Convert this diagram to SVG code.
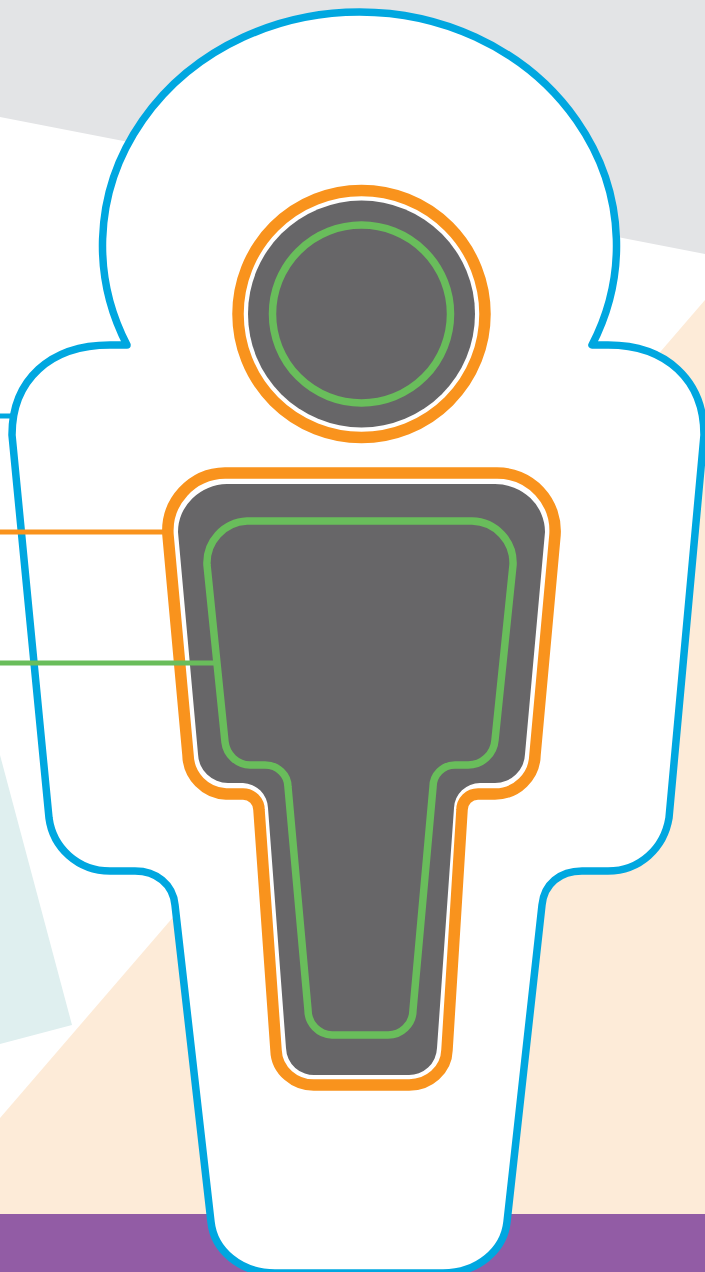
<svg xmlns="http://www.w3.org/2000/svg" width="705" height="1272" viewBox="0 0 705 1272">
<style>
.blue{fill:#fff;stroke:#00a7e0;stroke-width:7.500;stroke-linejoin:round}
.orange{fill:#fff;stroke:#f9931d;stroke-width:11.500}
.green{fill:none;stroke:#69bd5b;stroke-width:7.500}
.grey{fill:#676668}
.lead{fill:none;stroke-width:5}
</style>
<g id="background">
<rect width="705" height="1272" fill="#fff"/>
<polygon points="0,0 705,0 705,254 0,117" fill="#e3e4e6"/>
<polygon points="705,300 0,1118 0,1214 705,1214" fill="#fdebd8"/>
<polygon points="0,755 72,1025 0,1044" fill="#dfefef"/>
<rect y="1214" width="705" height="58" fill="#925ca5"/>
</g>
<g id="outline">
<path class="blue" d="M127 345A257 233.500 0 1 1 592 345H608C666 345 704 380 704 435L669 818C664 848 640 871 608 871H582C560 871 544 884 542 905L507 1222C504 1250 478 1273 443 1273H275C240 1273 214 1250 211 1222L175 905C173 884 156 871 135 871H110C78 871 53 848 49 818L12 435C12 380 50 345 110 345Z"/>
</g>
<g id="head">
<circle class="orange" cx="361.500" cy="314" r="123.500"/>
<circle class="grey" cx="361.500" cy="314" r="113.500"/>
<circle class="green" cx="361.500" cy="314" r="89"/>
</g>
<g id="body">
<path class="orange" d="M225 473H497A58 58 0 0 1 555 535L535 755A40 40 0 0 1 495 794H478A16 16 0 0 0 462 810L447 1050A38 36 0 0 1 408 1085H316A38 36 0 0 1 276 1050L259 810A16 16 0 0 0 243 794H226A40 40 0 0 1 188 755L168 535A58 58 0 0 1 225 473Z"/>
<path class="grey" d="M227 484H495A50 48 0 0 1 545 532L525 754A30 30 0 0 1 495 783H480A26 26 0 0 0 454 808L437 1048A28 28 0 0 1 408 1075H316A28 28 0 0 1 286 1048L268 808A26 26 0 0 0 243 783H228A30 30 0 0 1 198 754L178 532A50 48 0 0 1 227 484Z"/>
<path class="green" d="M247 521H472A42 42 0 0 1 513 565L495 740A27 27 0 0 1 468 765H455A22 22 0 0 0 433 787L413 1010A25 25 0 0 1 387 1035H332A25 25 0 0 1 308 1010L288 787A23 22 0 0 0 265 765H250A26 26 0 0 1 225 742L207 565A42 42 0 0 1 247 521Z"/>
</g>
<g id="connectors">
<path class="lead" stroke="#00a7e0" d="M0 416H12"/>
<path class="lead" stroke="#f9931d" d="M0 532H165"/>
<path class="lead" stroke="#69bd5b" d="M0 663H214"/>
</g>
</svg>
